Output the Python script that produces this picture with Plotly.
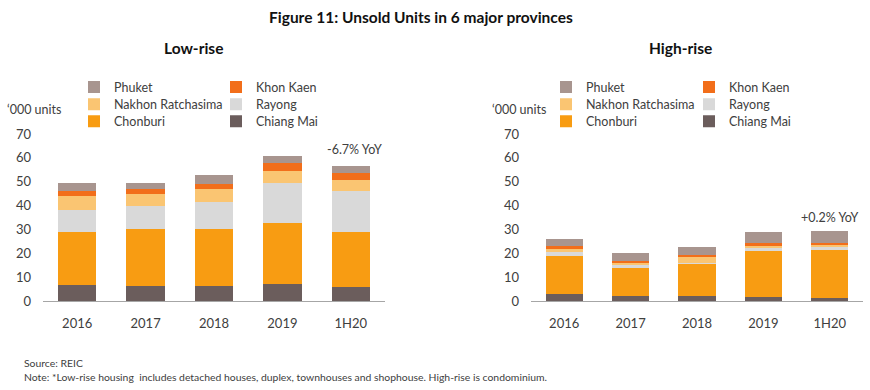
import plotly.graph_objects as go

W, H = 870, 390
FONT = "Lato"

categories = ["2016", "2017", "2018", "2019", "1H20"]
series_names = ["Chiang Mai", "Chonburi", "Rayong", "Nakhon Ratchasima", "Khon Kaen", "Phuket"]
series_colors = ["#6B5D5C", "#F89C12", "#D9D9D9", "#FAC572", "#F26E1A", "#A8958F"]

# Low-rise ('000 units)
low_chiang_mai = [6.9, 6.4, 6.4, 7.3, 6.0]
low_chonburi = [22.2, 23.8, 23.6, 25.3, 23.1]
low_rayong = [9.0, 9.6, 11.3, 16.7, 17.0]
low_nakhon = [5.9, 5.1, 5.6, 5.4, 4.6]
low_khon_kaen = [2.2, 2.0, 2.2, 3.1, 2.9]
low_phuket = [3.4, 2.7, 3.7, 3.0, 3.0]

# High-rise ('000 units)
high_chiang_mai = [2.8, 2.0, 2.0, 1.5, 1.3]
high_chonburi = [16.2, 12.1, 13.7, 19.4, 19.9]
high_rayong = [1.4, 0.8, 0.4, 1.7, 1.7]
high_nakhon = [1.5, 1.2, 2.4, 0.8, 0.6]
high_khon_kaen = [1.0, 0.7, 0.7, 0.8, 0.8]
high_phuket = [3.2, 3.3, 3.6, 4.9, 4.9]

y_ticks = [0, 10, 20, 30, 40, 50, 60, 70]

low_series = [low_chiang_mai, low_chonburi, low_rayong, low_nakhon, low_khon_kaen, low_phuket]
high_series = [high_chiang_mai, high_chonburi, high_rayong, high_nakhon, high_khon_kaen, high_phuket]


def px(x):
    return x / W


def py(y):
    return 1 - y / H


# legend grid (column, row) per series
legend_cell = {
    "Phuket": (0, 0), "Khon Kaen": (1, 0),
    "Nakhon Ratchasima": (0, 1), "Rayong": (1, 1),
    "Chonburi": (0, 2), "Chiang Mai": (1, 2),
}
panel_cols = [[114, 256], [586, 729]]
rows_y = [87.3, 104.7, 121.7]

fig = go.Figure()
legend_layouts = {}
lid = 0
for p, (data, xa, ya) in enumerate([(low_series, "x", "y"), (high_series, "x2", "y2")]):
    for name, vals, col in zip(series_names, data, series_colors):
        lid += 1
        lname = "legend" if lid == 1 else f"legend{lid}"
        c, r = legend_cell[name]
        tx = panel_cols[p][c]
        ty = rows_y[r]
        legend_layouts[lname] = dict(
            x=px(tx - 40), y=py(ty), xanchor="left", yanchor="middle",
            bgcolor="rgba(0,0,0,0)", borderwidth=0, itemwidth=30,
            font=dict(family=FONT, size=12.5, color="#404040"),
            itemclick=False, itemdoubleclick=False,
        )
        fig.add_trace(go.Bar(
            x=categories, y=vals, name=name, marker_color=col,
            marker_line_width=0, xaxis=xa, yaxis=ya, legend=lname,
            showlegend=True,
        ))

axis_common_y = dict(
    range=[0, 70], tickvals=y_ticks, showgrid=False, zeroline=False,
    showline=False, ticks="", ticklabelstandoff=11, automargin=False,
    tickfont=dict(family=FONT, size=13, color="#404040"),
)
axis_common_x = dict(
    showgrid=False, zeroline=False, showline=True, linecolor="#A6A6A6",
    linewidth=1, ticks="", ticklabelstandoff=10, automargin=False,
    tickfont=dict(family=FONT, size=13, color="#404040"),
)

fig.update_layout(
    width=W, height=H,
    margin=dict(l=0, r=0, t=0, b=0, autoexpand=False),
    paper_bgcolor="white", plot_bgcolor="white",
    barmode="stack", bargap=0.44,
    font=dict(family=FONT, color="#404040"),
    xaxis=dict(domain=[px(43), px(385)], anchor="y", **axis_common_x),
    yaxis=dict(domain=[py(301), py(134)], anchor="x", **axis_common_y),
    xaxis2=dict(domain=[px(531), px(863)], anchor="y2", **axis_common_x),
    yaxis2=dict(domain=[py(301), py(134)], anchor="x2", **axis_common_y),
    **legend_layouts,
)

annotations = [
    dict(text="<b>Figure 11: Unsold Units in 6 major provinces</b>", x=px(421), y=py(17),
         font=dict(size=15.5, color="#111111")),
    dict(text="<b>Low-rise</b>", x=px(193), y=py(48), font=dict(size=15.5, color="#111111")),
    dict(text="<b>High-rise</b>", x=px(680), y=py(48), font=dict(size=15.5, color="#111111")),
    dict(text="‘000 units", x=px(33.5), y=py(109), font=dict(size=12.5, color="#404040")),
    dict(text="‘000 units", x=px(518.5), y=py(109), font=dict(size=12.5, color="#404040")),
    dict(text="Source: REIC", x=px(22), y=py(363), xanchor="left", font=dict(size=10.4, color="#404040")),
    dict(text="Note: *Low-rise housing  includes detached houses, duplex, townhouses and shophouse. High-rise is condominium.",
         x=px(22), y=py(377), xanchor="left", font=dict(size=10.4, color="#404040")),
]
for a in annotations:
    a.setdefault("xanchor", "center")
    a.update(xref="paper", yref="paper", yanchor="middle", showarrow=False)
    a["font"]["family"] = FONT
    fig.add_annotation(**a)

fig.add_annotation(text="-6.7% YoY", x="1H20", y=63.3, xref="x", yref="y", showarrow=False,
                   xanchor="center", yanchor="middle", xshift=4,
                   font=dict(family=FONT, size=12.5, color="#404040"))
fig.add_annotation(text="+0.2% YoY", x="1H20", y=35.2, xref="x2", yref="y2", showarrow=False,
                   xanchor="center", yanchor="middle",
                   font=dict(family=FONT, size=12.5, color="#404040"))

fig.write_html("out.html", config={"displayModeBar": False},
               post_script="document.body.style.margin='0';")
